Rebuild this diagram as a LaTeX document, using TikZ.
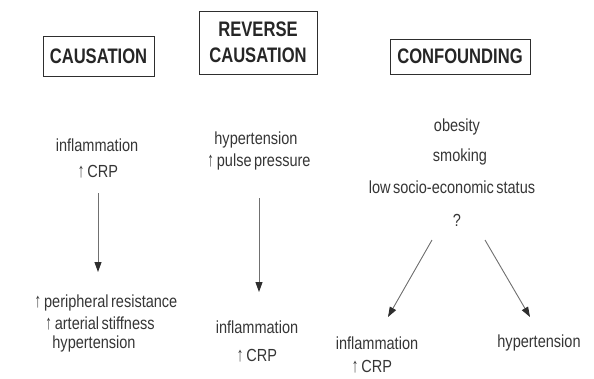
\documentclass[tikz,border=0pt]{standalone}
\usepackage{fontspec}
\setmainfont{Liberation Sans}[FakeStretch=0.83, WordSpace=0.6]
\newfontfamily\titlefont{Liberation Sans}[FakeStretch=0.79]
\usetikzlibrary{arrows.meta}
\definecolor{txt}{HTML}{363636}
\definecolor{linec}{HTML}{707070}
\definecolor{headc}{HTML}{2E2E2E}
\newcommand\myup{\scalebox{0.9}[1.15]{↑}}
\tikzset{
  lbl/.style={inner sep=0pt, text=txt, font=\fontsize{17.5}{20}\selectfont},
  ttl/.style={draw=headc, line width=0.9pt, text=black!85, align=center, inner sep=0pt,
              font=\titlefont\bfseries\fontsize{21}{26}\selectfont},
  arr/.style={draw=linec, line width=0.9pt, -{Triangle[length=10pt,width=7pt,color=headc]}}
}
\begin{document}
\begin{tikzpicture}[x=1pt,y=-1pt]
\useasboundingbox[fill=white] (0,0) rectangle (594,378);
% titles
\node[ttl, minimum width=111pt, minimum height=40pt] (tc) at (98.5,56) {CAUSATION};
\node[ttl, minimum width=118pt, minimum height=63pt] (tr) at (258,42.5) {REVERSE\\CAUSATION};
\node[ttl, minimum width=140pt, minimum height=35pt] (tf) at (460,56.5) {CONFOUNDING};
% causation
\node[lbl] (c1) at (97,145) {inflammation};
\node[lbl] (c2) at (98,172) {\myup\,CRP};
\node[lbl] (c3) at (106,303) {\myup\,peripheral resistance};
\node[lbl] (c4) at (100,323.5) {\myup\,arterial stiffness};
\node[lbl] (c5) at (94,344) {hypertension};
\draw[arr, shorten <=21pt, shorten >=31pt] (c2.center) -- (c2.center |- c3.center);
% reverse causation
\node[lbl] (r1) at (256,140) {hypertension};
\node[lbl] (r2) at (259,162) {\myup\,pulse pressure};
\node[lbl] (r3) at (257,327) {inflammation};
\node[lbl] (r4) at (257,356) {\myup\,CRP};
\draw[arr, shorten <=36pt, shorten >=35pt] (r2.center) -- (r2.center |- r3.center);
% confounding
\node[lbl] (f1) at (457,127) {obesity};
\node[lbl] (f2) at (460,157) {smoking};
\node[lbl] (f3) at (452,187) {low socio-economic status};
\node[lbl] (q) at (457,220) {?};
\node[lbl] (fl) at (377,343) {inflammation};
\node[lbl] (fl2) at (372,367) {\myup\,CRP};
\node[lbl] (fr) at (539,343) {hypertension};
\coordinate (la) at (432,240);
\coordinate (lb) at (388,317);
\coordinate (ra) at (485,240);
\coordinate (rb) at (530,317);
\draw[arr] (la) -- (lb);
\draw[arr] (ra) -- (rb);
\end{tikzpicture}
\end{document}
